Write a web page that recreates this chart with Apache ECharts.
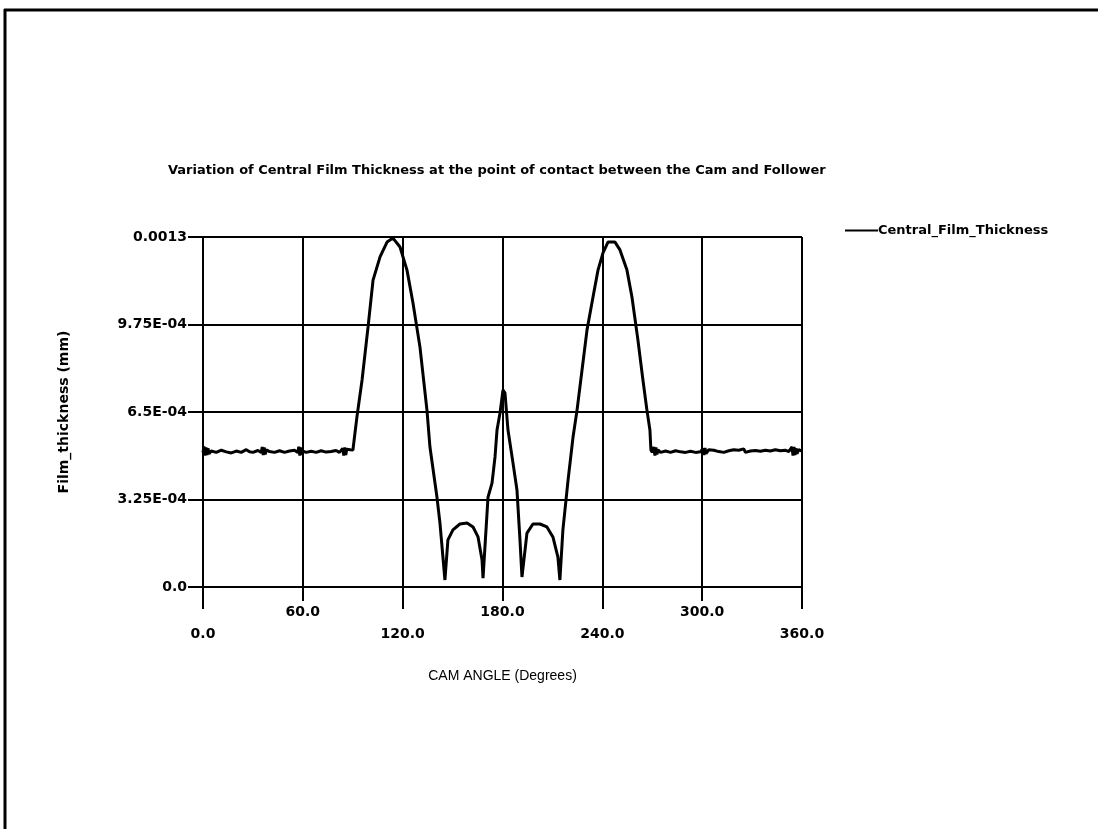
<!DOCTYPE html>
<html>
<head>
<meta charset="utf-8">
<script src="https://cdn.jsdelivr.net/npm/echarts@6/dist/echarts.min.js"></script>
<style>
html,body{margin:0;padding:0;background:#fff;}
#chart{width:1098px;height:829px;}
</style>
</head>
<body>
<div id="chart"></div>
<script>
// ---- Data ----
const chartTitle = 'Variation of Central Film Thickness at the point of contact between the Cam and Follower';
const seriesName = 'Central_Film_Thickness';
const xAxisName = 'CAM ANGLE (Degrees)';
const yAxisName = 'Film_thickness (mm)';
const yTickLabels = {0: '0.0', 1: '3.25E-04', 2: '6.5E-04', 3: '9.75E-04', 4: '0.0013'};
const referenceLevel = 0.000505;

const camAngle = [
  0,0.6,1.2,1.8,2.4,3.0,3.6,5,8,11,14,17,20,23,26,28,30,33,35,35.6,36.2,36.8,37.4,38,40,43,46,49,52,55,57,57.6,58.2,58.8,59.4,60,62,65,68,71,74,77,80,82,84,84.6,85.2,85.8,86.4,87.5,88.5,
  90.1,92.5,95.6,99.2,102.2,106.4,110.6,114.2,118.4,122.6,126.2,130.4,134.6,136.4,140.6,142.4,145.4,
  147.2,150.2,154.4,158.7,162.3,165.3,167.7,168.3,
  171.3,173.7,175.5,176.7,178.5,180.3,181.5,183.3,186.3,188.7,190.5,191.7,
  194.7,198.3,202.5,206.7,210.3,213.3,214.5,
  216.3,219.4,222.4,224.8,227.8,230.8,234.4,237.4,240.4,243.4,247.6,250.6,254.8,257.8,261.4,264.4,266.8,268.6,269.2,
  270,271,271.6,272.2,272.8,273.4,275,278,281,284,287,290,293,296,299,300.5,301.1,301.7,302.3,304,307,310,313,316,319,322,325,326,329,332,335,338,341,344,347,350,352,354,354.6,355.2,355.8,356.4,357,358,360
];
const filmThickness = [
  0.000500,0.000522,0.000488,0.000518,0.000490,0.000515,0.000495,0.000505,0.000500,0.000508,0.000502,0.000498,0.000505,0.000500,0.000510,0.000502,0.000500,0.000507,0.000500,0.000520,0.000490,0.000518,0.000492,0.000510,0.000503,0.000500,0.000506,0.000500,0.000505,0.000508,0.000500,0.000521,0.000488,0.000518,0.000492,0.000505,0.000500,0.000504,0.000500,0.000506,0.000501,0.000503,0.000507,0.000500,0.000515,0.000488,0.000518,0.000490,0.000512,0.000505,0.000510,
  0.000509,0.000631,0.000769,0.000966,0.001140,0.001226,0.001281,0.001296,0.001263,0.001177,0.001055,0.000891,0.000657,0.000520,0.000334,0.000238,0.000026,
  0.000175,0.000212,0.000234,0.000238,0.000223,0.000186,0.000100,0.000033,
  0.000334,0.000386,0.000483,0.000583,0.000646,0.000732,0.000720,0.000583,0.000461,0.000360,0.000175,0.000037,
  0.000200,0.000234,0.000234,0.000223,0.000186,0.000111,0.000026,
  0.000212,0.000397,0.000557,0.000657,0.000806,0.000955,0.001077,0.001177,0.001241,0.001281,0.001281,0.001252,0.001177,0.001077,0.000917,0.000769,0.000657,0.000583,0.000509,
  0.000500,0.000520,0.000488,0.000518,0.000492,0.000510,0.000500,0.000505,0.000500,0.000506,0.000502,0.000500,0.000504,0.000500,0.000502,0.000515,0.000490,0.000516,0.000495,0.000510,0.000508,0.000503,0.000500,0.000506,0.000510,0.000508,0.000513,0.000500,0.000505,0.000507,0.000504,0.000508,0.000505,0.000510,0.000506,0.000508,0.000503,0.000520,0.000488,0.000520,0.000490,0.000515,0.000495,0.000510,0.000505
];

const seriesData = camAngle.map((a, i) => [a, filmThickness[i]]);
const labelFont = "'DejaVu Sans',sans-serif";

const chart = echarts.init(document.getElementById('chart'), null, {renderer: 'canvas'});
chart.setOption({
  backgroundColor: '#fff',
  animation: false,
  title: {
    text: chartTitle,
    left: 163, top: 159,
    textStyle: {fontFamily: labelFont, fontWeight: 'bold', fontSize: 13, color: '#000'}
  },
  legend: {
    data: [{name: seriesName, icon: 'rect'}],
    left: 840, top: 219,
    itemWidth: 33, itemHeight: 2, itemGap: 2,
    textStyle: {fontFamily: labelFont, fontWeight: 'bold', fontSize: 13, color: '#000', padding: [0,0,0,-5]}
  },
  grid: {left: 203, right: 296, top: 237, bottom: 242, containLabel: false},
  xAxis: [{
    type: 'value', min: 0, max: 360, interval: 60,
    name: xAxisName, nameLocation: 'middle', nameGap: 82,
    nameTextStyle: {fontFamily: "'Liberation Sans',Arial,sans-serif", fontSize: 14, color: '#000'},
    axisLine: {show: true, lineStyle: {color: '#000', width: 2}},
    axisTick: {show: true, inside: false, length: 14, lineStyle: {color: '#000', width: 2}},
    splitLine: {show: true, lineStyle: {color: '#000', width: 2}},
    axisLabel: {
      margin: 18,
      formatter: v => (v % 120 === 0 ? '{b|' + v.toFixed(1) + '}' : '{a|' + v.toFixed(1) + '}'),
      rich: {
        a: {fontFamily: labelFont, fontWeight: 'bold', fontSize: 14, color: '#000'},
        b: {fontFamily: labelFont, fontWeight: 'bold', fontSize: 14, color: '#000', padding: [22,0,0,0]}
      }
    }
  }, {
    type: 'value', min: 0, max: 360, position: 'bottom',
    axisLine: {show: false},
    axisTick: {show: true, inside: false, length: 22, customValues: [0,120,240,360], lineStyle: {color: '#000', width: 2}},
    axisLabel: {show: false},
    splitLine: {show: false}
  }],
  yAxis: {
    type: 'value', min: 0, max: 0.0013, interval: 0.000325,
    name: yAxisName, nameLocation: 'middle', nameGap: 132, nameRotate: 90,
    nameTextStyle: {fontFamily: labelFont, fontWeight: 'bold', fontSize: 14, color: '#000'},
    axisLine: {show: true, lineStyle: {color: '#000', width: 2}},
    axisTick: {show: true, inside: false, length: 15, lineStyle: {color: '#000', width: 2}},
    splitLine: {show: true, lineStyle: {color: '#000', width: 2}},
    axisLabel: {
      margin: 16,
      formatter: (v, i) => yTickLabels[i] !== undefined ? yTickLabels[i] : '',
      fontFamily: labelFont, fontWeight: 'bold', fontSize: 14, color: '#000'
    }
  },
  series: [{
    name: seriesName,
    type: 'line',
    xAxisIndex: 0,
    data: seriesData,
    symbol: 'none',
    lineStyle: {color: '#000', width: 3},
    itemStyle: {color: '#000'},
    markLine: {
      silent: true, symbol: 'none', label: {show: false},
      lineStyle: {color: '#000', width: 2, type: 'solid'},
      data: [{yAxis: referenceLevel}]
    }
  }],
  graphic: [
    {type: 'line', shape: {x1: 4, y1: 10, x2: 1098, y2: 10}, style: {stroke: '#000', lineWidth: 3}},
    {type: 'line', shape: {x1: 5, y1: 9, x2: 5, y2: 829}, style: {stroke: '#000', lineWidth: 3}}
  ]
});
</script>
</body>
</html>
